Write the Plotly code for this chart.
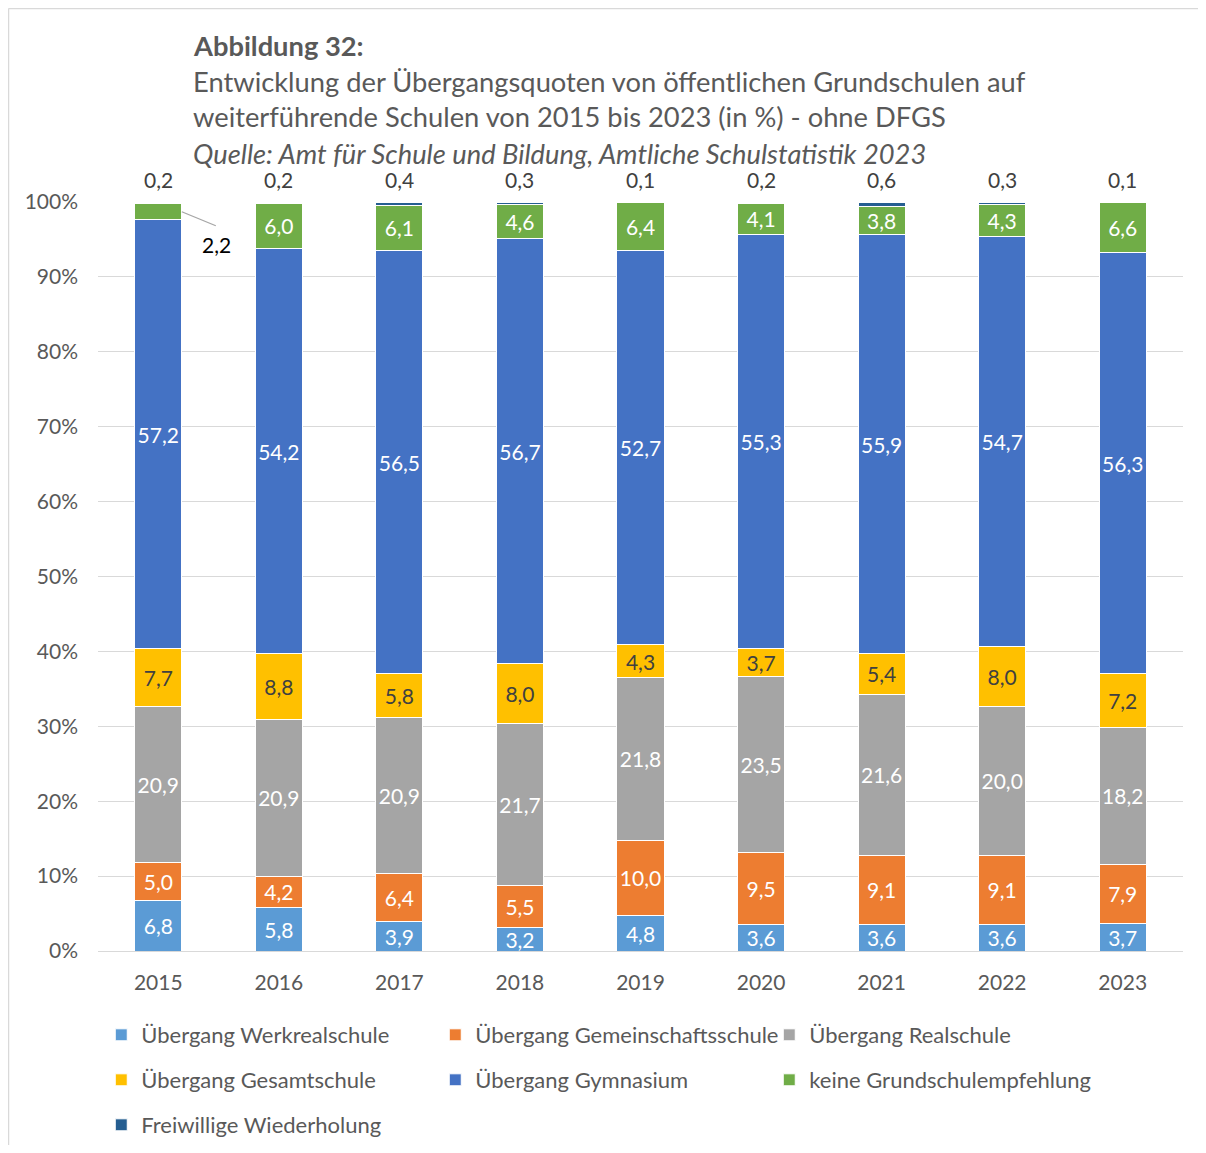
import plotly.graph_objects as go

years = ["2015", "2016", "2017", "2018", "2019", "2020", "2021", "2022", "2023"]
series_names = [
    "Übergang Werkrealschule",
    "Übergang Gemeinschaftsschule",
    "Übergang Realschule",
    "Übergang Gesamtschule",
    "Übergang Gymnasium",
    "keine Grundschulempfehlung",
    "Freiwillige Wiederholung",
]
werkreal = [6.8, 5.8, 3.9, 3.2, 4.8, 3.6, 3.6, 3.6, 3.7]
gemeinschaft = [5.0, 4.2, 6.4, 5.5, 10.0, 9.5, 9.1, 9.1, 7.9]
realschule = [20.9, 20.9, 20.9, 21.7, 21.8, 23.5, 21.6, 20.0, 18.2]
gesamtschule = [7.7, 8.8, 5.8, 8.0, 4.3, 3.7, 5.4, 8.0, 7.2]
gymnasium = [57.2, 54.2, 56.5, 56.7, 52.7, 55.3, 55.9, 54.7, 56.3]
keine_empf = [2.2, 6.0, 6.1, 4.6, 6.4, 4.1, 3.8, 4.3, 6.6]
wiederholung = [0.2, 0.2, 0.4, 0.3, 0.1, 0.2, 0.6, 0.3, 0.1]
y_ticks = [0, 10, 20, 30, 40, 50, 60, 70, 80, 90, 100]

series_values = [werkreal, gemeinschaft, realschule, gesamtschule, gymnasium, keine_empf, wiederholung]
colors = ["#5B9BD5", "#ED7D31", "#A5A5A5", "#FFC000", "#4472C4", "#70AD47", "#255E91"]
text_colors = ["white", "white", "white", "#404040", "white", "white", "white"]
legend_ids = ["legend", "legend", "legend", "legend2", "legend2", "legend2", "legend3"]

FONT = "Lato"
GRAY = "#595959"
BARGAP = 0.61


def fmt(v):
    return f"{v:.1f}".replace(".", ",")


fig = go.Figure()
for i, (name, vals) in enumerate(zip(series_names, series_values)):
    if name == "Freiwillige Wiederholung":
        tpos = ["none"] * len(vals)
    elif name == "keine Grundschulempfehlung":
        tpos = ["none"] + ["inside"] * (len(vals) - 1)
    else:
        tpos = ["inside"] * len(vals)
    fig.add_trace(go.Bar(
        x=years, y=vals, name=name,
        marker=dict(color=colors[i], line=dict(color="white", width=1)),
        text=[fmt(v) for v in vals],
        textposition=tpos,
        insidetextanchor="middle",
        textangle=0,
        textfont=dict(family=FONT, size=21, color=text_colors[i]),
        legend=legend_ids[i],
        hoverinfo="skip",
    ))

annotations = []
# Freiwillige Wiederholung labels above the bars
for idx, v in enumerate(wiederholung):
    annotations.append(dict(
        x=idx, y=100, xref="x", yref="y", text=fmt(v), showarrow=False,
        yshift=23, font=dict(family=FONT, size=21, color="#404040"),
    ))

# 2015 "keine Grundschulempfehlung" label outside the bar, with a leader line
bar_edge = (1 - BARGAP) / 2
green_mid_2015 = 100 - wiederholung[0] - keine_empf[0] / 2
annotations.append(dict(
    x=bar_edge, y=green_mid_2015, xref="x", yref="y",
    text=fmt(keine_empf[0]), showarrow=False, xshift=35, yshift=-33,
    font=dict(family=FONT, size=21, color="black"),
))

title_lines = [
    ("<b>Abbildung 32:</b>", 1.2096),
    ("Entwicklung der Übergangsquoten von öffentlichen Grundschulen auf", 1.1615),
    ("weiterführende Schulen von 2015 bis 2023 (in %) - ohne DFGS", 1.1135),
    ("<i>Quelle: Amt für Schule und Bildung, Amtliche Schulstatistik 2023</i>", 1.0654),
]
for txt, yp in title_lines:
    annotations.append(dict(
        x=0.0857, y=yp, xref="paper", yref="paper", xanchor="left", yanchor="middle",
        text=txt, showarrow=False, font=dict(family=FONT, size=27.3, color=GRAY),
    ))

shapes = [
    # frame (top and left edges visible in the reference)
    dict(type="line", xref="paper", yref="paper", x0=-0.0825, x1=1.03, y0=1.2585, y1=1.2585,
         line=dict(color="#D9D9D9", width=1.5)),
    dict(type="line", xref="paper", yref="paper", x0=-0.0825, x1=-0.0825, y0=1.2585, y1=-0.27,
         line=dict(color="#D9D9D9", width=1.5)),
    # leader line for the 2,2 label
    dict(type="line", xref="x", yref="y", xsizemode="pixel", ysizemode="pixel",
         xanchor=bar_edge, yanchor=green_mid_2015, x0=0, y0=0, x1=34, y1=-14,
         line=dict(color="#A6A6A6", width=1.3)),
]

legend_common = dict(
    orientation="h", xref="paper", yref="paper", xanchor="left", yanchor="middle",
    x=0.003, entrywidth=289, entrywidthmode="pixels", traceorder="normal",
    font=dict(family=FONT, size=22, color=GRAY), bgcolor="rgba(0,0,0,0)",
    itemclick=False, itemdoubleclick=False,
)

fig.update_layout(
    width=1190, height=1137,
    margin=dict(l=90, r=15, t=194, b=194, autoexpand=False),
    plot_bgcolor="white", paper_bgcolor="white",
    barmode="stack", barnorm="percent", bargap=BARGAP,
    font=dict(family=FONT, color=GRAY),
    uniformtext=dict(minsize=21, mode="show"),
    showlegend=True,
    legend=dict(legend_common, y=(951 - 1035) / 749),
    legend2=dict(legend_common, y=(951 - 1080) / 749),
    legend3=dict(legend_common, y=(951 - 1125) / 749),
    annotations=annotations,
    shapes=shapes,
    xaxis=dict(
        type="category", range=[-0.5, 8.5], autorange=False,
        showline=False, ticks="", showgrid=False,
        tickfont=dict(family=FONT, size=21, color=GRAY), ticklabelstandoff=17,
    ),
    yaxis=dict(
        range=[0, 100], autorange=False, tickvals=y_ticks, ticktext=[f"{t}%" for t in y_ticks],
        showgrid=True, gridcolor="#D9D9D9", gridwidth=1.3,
        zeroline=True, zerolinecolor="#D9D9D9", zerolinewidth=1.3,
        showline=False, ticks="",
        tickfont=dict(family=FONT, size=21, color=GRAY), ticklabelstandoff=19,
    ),
)

fig.write_html("out.html")
